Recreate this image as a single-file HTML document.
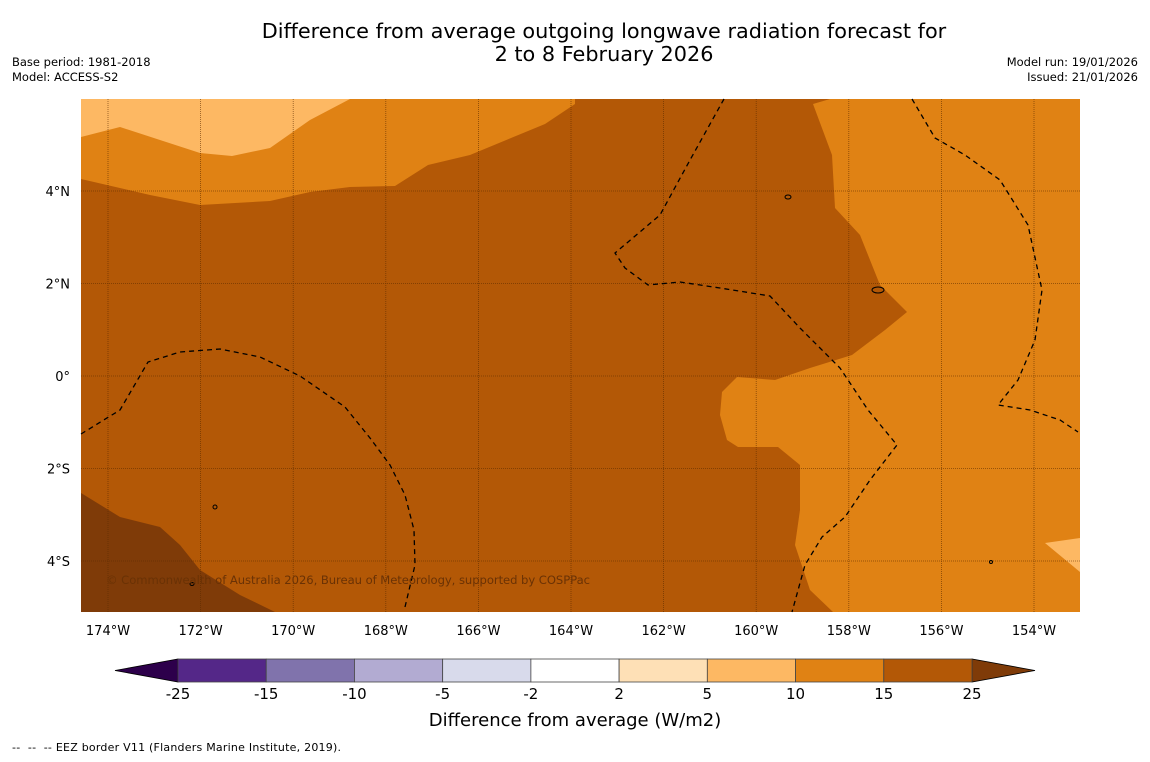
<!DOCTYPE html>
<html><head><meta charset="utf-8"><style>
body{margin:0;background:#fff;width:1150px;height:758px;overflow:hidden;font-family:"DejaVu Sans","Liberation Sans",sans-serif;}
</style></head><body>
<svg width="1150" height="758" font-family="DejaVu Sans, Liberation Sans, sans-serif">
<text x="604" y="38" text-anchor="middle" font-size="20.8">Difference from average outgoing longwave radiation forecast for</text>
<text x="604" y="61" text-anchor="middle" font-size="20.8">2 to 8 February 2026</text>
<text x="12" y="66" font-size="11.5">Base period: 1981-2018</text>
<text x="12" y="81" font-size="11.5">Model: ACCESS-S2</text>
<text x="1138" y="66" font-size="11.5" text-anchor="end">Model run: 19/01/2026</text>
<text x="1138" y="81" font-size="11.5" text-anchor="end">Issued: 21/01/2026</text>
<g id="map">
<rect x="81" y="99" width="999" height="513" fill="#b35806"/>
<polygon fill="#e08214" points="81,99 575,99 575,104 545,124 470,155 428,165 395,186 350,187 310,192 270,201 200,205 150,195 81,179"/>
<polygon fill="#fdb863" points="81,99 350,99 310,120 270,148 232,156 200,153 160,140 120,127 81,137"/>
<polygon fill="#e08214" points="813,104 830,99 1080,99 1080,612 833,612 810,590 795,545 800,510 800,465 778,447 738,447 727,440 720,415 722,392 737,377 775,380 810,368 852,355 885,330 907,312 880,285 860,235 835,208 832,155"/>
<polygon fill="#fdb863" points="1045,543 1080,538 1080,572"/>
<polygon fill="#7f3b08" points="81,493 120,517 160,527 180,545 200,570 240,595 275,612 81,612"/>
<g id="grid" stroke="#5a2a00" stroke-width="0.8" stroke-dasharray="1,1" opacity="0.7"></g>
<g fill="none" stroke="#000" stroke-width="1.3" stroke-dasharray="5,4">
<path d="M81,434 L120,410 L148,362 L180,352 L220,349 L260,357 L300,376 L345,407 L370,438 L390,465 L405,495 L414,530 L415,565 L405,607"/>
<path d="M724,99 L690,160 L660,215 L615,253 L625,268 L648,285 L680,282 L720,288 L770,296 L800,328 L840,368 L868,410 L897,445 L870,480 L845,517 L822,537 L805,565 L792,612"/>
<path d="M912,99 L935,138 L965,155 L1000,180 L1028,225 L1042,290 L1035,340 L1018,380 L998,405 L1030,410 L1060,420 L1078,432"/>
</g>
<g fill="none" stroke="#000" stroke-width="1">
<ellipse cx="788" cy="197" rx="3" ry="2"/><ellipse cx="878" cy="290" rx="6" ry="3"/><ellipse cx="215" cy="507" rx="2" ry="2"/><ellipse cx="192" cy="584" rx="2" ry="1.5"/><ellipse cx="991" cy="562" rx="1.5" ry="1.5"/>
</g>
<text x="106" y="584" font-size="11.6" fill="#6a3205" textLength="484">© Commonwealth of Australia 2026, Bureau of Meteorology, supported by COSPPac</text>
</g>
<g id="xaxis" font-size="13" text-anchor="middle"></g>
<g id="yaxis" font-size="13" text-anchor="end"></g>
<g id="cbar"></g>
<text x="575" y="726" font-size="18" text-anchor="middle">Difference from average (W/m2)</text>
<text x="12" y="751" font-size="11" xml:space="preserve" textLength="329">--  --  -- EEZ border V11 (Flanders Marine Institute, 2019).</text>
</svg>
<script>
const lonTicks=[-174,-172,-170,-168,-166,-164,-162,-160,-158,-156,-154];
const latTicks=[4,2,0,-2,-4];
const levels=[-25,-15,-10,-5,-2,2,5,10,15,25];
const binColors=["#542788","#8073ac","#b2abd2","#d8daeb","#ffffff","#fee0b6","#fdb863","#e08214","#b35806"];
const NS="http://www.w3.org/2000/svg";
const xs=lon=>108+(lon+174)*46.3;
const ys=lat=>376-lat*46.25;
function mk(t,a,p){const e=document.createElementNS(NS,t);for(const k in a)e.setAttribute(k,a[k]);p.appendChild(e);return e;}
const grid=document.getElementById('grid'),xa=document.getElementById('xaxis'),ya=document.getElementById('yaxis');
lonTicks.forEach(l=>{const x=xs(l);
const g=mk('line',{x1:x,x2:x,y1:99,y2:612},grid);


const t=mk('text',{x:x,y:635},xa);t.textContent=Math.abs(l)+'°W';

});
latTicks.forEach(l=>{const y=ys(l);
const g=mk('line',{x1:81,x2:1080,y1:y,y2:y},grid);


const t=mk('text',{x:70,y:y+5},ya);t.textContent=l===0?'0°':Math.abs(l)+'°'+(l>0?'N':'S');

});
const cb=document.getElementById('cbar');
const cx0=178,cx1=972,cw=(cx1-cx0)/binColors.length,cy=659,ch=23;
const lt=mk('polygon',{points:`115,${cy+ch/2} ${cx0},${cy} ${cx0},${cy+ch}`,fill:'#2d004b',stroke:'#000','stroke-width':0.8},cb);


const rt=mk('polygon',{points:`1035,${cy+ch/2} ${cx1},${cy} ${cx1},${cy+ch}`,fill:'#7f3b08',stroke:'#000','stroke-width':0.8},cb);


binColors.forEach((c,i)=>{const r=mk('rect',{x:cx0+i*cw,y:cy,width:cw,height:ch,fill:c,stroke:'#444','stroke-width':0.8},cb);

});
levels.forEach((v,i)=>{const t=mk('text',{x:cx0+i*cw,y:699,'font-size':15,'text-anchor':'middle'},cb);t.textContent=v;

});
</script>
</body></html>
